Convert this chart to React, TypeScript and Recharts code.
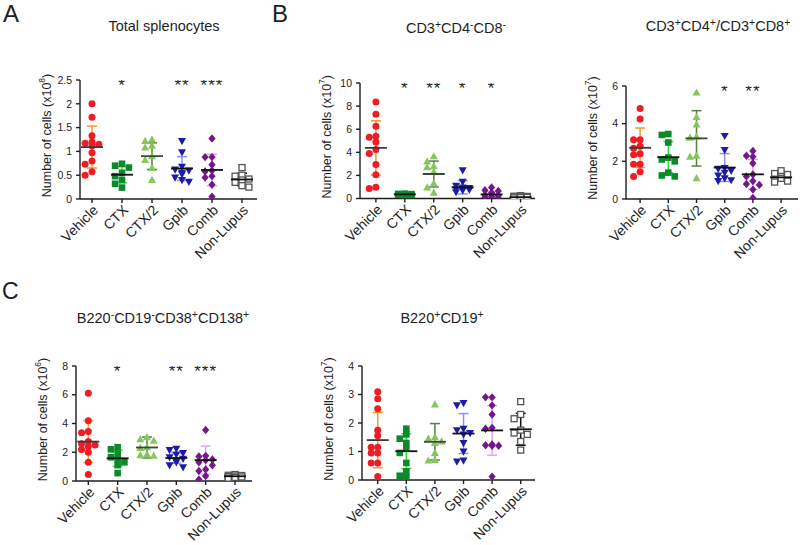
import React from "react";
import { ScatterChart, Scatter, XAxis, YAxis, ErrorBar } from "recharts";

const groups = ["Vehicle", "CTX", "CTX/2", "Gpib", "Comb", "Non-Lupus"];

// A: total splenocytes (x10^8)
const splenoPoints = [
  [2.0, 1.72, 1.33, 1.2, 1.17, 1.15, 1.12, 0.97, 0.8, 0.73, 0.57, 0.5],
  [0.74, 0.7, 0.66, 0.55, 0.48, 0.4, 0.32, 0.24],
  [1.25, 1.22, 1.12, 1.08, 0.9, 0.82, 0.65, 0.4],
  [1.22, 0.98, 0.68, 0.62, 0.6, 0.55, 0.52, 0.45, 0.4, 0.36],
  [1.27, 0.88, 0.88, 0.72, 0.6, 0.58, 0.48, 0.45, 0.3, 0.05],
  [0.66, 0.5, 0.48, 0.42, 0.4, 0.35, 0.28, 0.25],
];
const splenoMean = [1.09, 0.51, 0.9, 0.64, 0.61, 0.41];
const splenoSd = [0.44, 0.17, 0.28, 0.25, 0.33, 0.13];
const splenoStars = ["", "*", "", "**", "***", ""];

// B: CD3+CD4-CD8- (x10^7)
const dnPoints = [
  [8.35, 7.3, 6.25, 5.4, 5.3, 4.9, 4.25, 3.9, 2.95, 2.05, 0.98, 0.86],
  [0.42, 0.4, 0.38, 0.35, 0.33, 0.3, 0.28],
  [3.65, 3.2, 2.8, 2.7, 2.3, 1.3, 0.95, 0.5],
  [2.45, 1.45, 1.1, 0.95, 0.9, 0.85, 0.8, 0.75, 0.7, 0.55],
  [0.95, 0.72, 0.65, 0.5, 0.38, 0.3, 0.25, 0.18, 0.1, 0.05],
  [0.25, 0.2, 0.18, 0.15, 0.12, 0.1, 0.08, 0.05],
];
const dnMean = [4.38, 0.35, 2.12, 0.97, 0.35, 0.12];
const dnSd = [2.35, 0.05, 1.12, 0.58, 0.25, 0.07];
const dnStars = ["", "*", "**", "*", "*", ""];

// B: CD3+CD4+/CD3+CD8+ (x10^7)
const tPoints = [
  [4.8, 4.25, 3.15, 3.15, 2.8, 2.7, 2.4, 2.35, 1.85, 1.85, 1.45, 1.2],
  [3.45, 3.4, 3.0, 2.2, 2.1, 2.0, 1.4, 1.25, 1.2],
  [5.65, 4.35, 3.95, 3.3, 3.25, 2.3, 2.25, 1.1],
  [3.35, 2.6, 1.65, 1.6, 1.5, 1.4, 1.25, 1.1, 1.0, 0.95],
  [2.55, 2.3, 2.25, 1.9, 1.3, 1.2, 0.95, 0.8, 0.75, 0.5, 0.05],
  [1.5, 1.35, 1.3, 1.2, 1.1, 1.05, 0.95, 0.9],
];
const tMean = [2.72, 2.22, 3.22, 1.67, 1.31, 1.15];
const tSd = [1.05, 0.83, 1.47, 0.74, 0.8, 0.2];
const tStars = ["", "", "", "*", "**", ""];

// C: B220-CD19-CD38+CD138+ (x10^6)
const plasmaPoints = [
  [6.1, 4.2, 3.45, 3.35, 2.75, 2.6, 2.5, 2.4, 2.2, 2.0, 1.3, 0.45],
  [2.35, 2.2, 1.9, 1.65, 1.5, 1.3, 1.1, 0.55],
  [3.05, 2.9, 2.8, 2.35, 2.3, 1.85, 1.8, 1.75],
  [2.25, 2.15, 1.95, 1.85, 1.65, 1.55, 1.4, 1.3, 1.1, 0.95],
  [3.55, 1.75, 1.7, 1.5, 1.45, 1.3, 1.1, 0.8, 0.7, 0.35, 0.1],
  [0.45, 0.4, 0.38, 0.35, 0.3, 0.28, 0.25, 0.2],
];
const plasmaMean = [2.74, 1.58, 2.33, 1.6, 1.45, 0.33];
const plasmaSd = [1.46, 0.56, 0.73, 0.36, 0.98, 0.08];
const plasmaStars = ["", "*", "", "**", "***", ""];

// C: B220+CD19+ (x10^7)
const bPoints = [
  [3.1, 2.85, 2.5, 1.75, 1.55, 1.15, 1.15, 0.95, 0.95, 0.6, 0.6, 0.12],
  [1.8, 1.6, 1.45, 1.3, 1.1, 0.95, 0.6, 0.3, 0.15, 0.1],
  [2.65, 1.5, 1.45, 1.35, 1.3, 0.95, 0.7, 0.68],
  [2.7, 2.62, 1.8, 1.75, 1.65, 1.6, 1.3, 1.0, 0.68, 0.65],
  [2.9, 2.9, 2.62, 2.3, 1.83, 1.8, 1.25, 1.22, 1.2, 1.2, 0.12],
  [2.75, 2.3, 2.15, 1.75, 1.65, 1.6, 1.35, 1.05],
];
const bMean = [1.4, 1.01, 1.34, 1.63, 1.74, 1.78];
const bSd = [0.97, 0.61, 0.64, 0.7, 0.87, 0.56];
const bStars = ["", "", "", "", "", ""];

const dotColor = ["#ee1d23", "#0b8a2c", "#86c65a", "#1c1ca8", "#74178d", "#555555"];
const barColor = ["#f59a2c", "#33e133", "#55803f", "#8a93ee", "#e2a4ef", "#111111"];
const meanColor = ["#3a3a3a", "#111111", "#3a4a30", "#111111", "#111111", "#111111"];
const kinds = ["circle", "square", "up", "down", "diamond", "open"];

const FONT = "'Liberation Sans', Arial, Helvetica, sans-serif";
const INK = "#1e1e1e";

// little beeswarm so close values sit side by side
function spread(values: number[], yMax: number): number[] {
  const gap = yMax * 0.045;
  const slots = [0, -1, 1];
  const placed: { s: number; v: number }[] = [];
  let k = 0;
  return values.map((v) => {
    let slot = slots.find((s) => placed.every((p) => p.s !== s || Math.abs(p.v - v) >= gap));
    if (slot === undefined) slot = slots[k++ % 3];
    placed.push({ s: slot, v });
    return slot * 0.23;
  });
}

function Marker({ cx, cy, kind, color }: { cx: number; cy: number; kind: string; color: string }) {
  if (cx == null || cy == null) return null;
  switch (kind) {
    case "circle":
      return <circle cx={cx} cy={cy} r={3.5} fill={color} />;
    case "square":
      return <rect x={cx - 3.3} y={cy - 3.3} width={6.6} height={6.6} fill={color} />;
    case "up":
      return <polygon points={`${cx},${cy - 4.2} ${cx - 4},${cy + 3} ${cx + 4},${cy + 3}`} fill={color} />;
    case "down":
      return <polygon points={`${cx - 4},${cy - 3} ${cx + 4},${cy - 3} ${cx},${cy + 4.2}`} fill={color} />;
    case "diamond":
      return <polygon points={`${cx},${cy - 4.2} ${cx + 3.6},${cy} ${cx},${cy + 4.2} ${cx - 3.6},${cy}`} fill={color} />;
    default:
      return <rect x={cx - 3} y={cy - 3} width={6} height={6} fill="#fff" stroke={color} strokeWidth={1.3} />;
  }
}

const CatTick = (p: any) => {
  const ax = p.x + 7;
  const ay = p.y + 6;
  return (
    <text x={ax} y={ay} transform={`rotate(-45 ${ax} ${ay})`} textAnchor="end" fontSize={14} fill={INK} fontFamily={FONT}>
      {groups[p.payload.value]}
    </text>
  );
};

type PanelCfg = {
  points: number[][];
  mean: number[];
  sd: number[];
  stars: string[];
  yMax: number;
  yTicks: number[];
  exp: string;
  axisX: number;
  top: number;
  bottom: number;
  right: number;
  xMin: number;
  xMax: number;
};

const panels: PanelCfg[] = [
  { points: splenoPoints, mean: splenoMean, sd: splenoSd, stars: splenoStars, yMax: 2.5, yTicks: [0, 0.5, 1, 1.5, 2, 2.5], exp: "8", axisX: 80, top: 80, bottom: 199, right: 257, xMin: -0.4, xMax: 5.5 },
  { points: dnPoints, mean: dnMean, sd: dnSd, stars: dnStars, yMax: 10, yTicks: [0, 2, 4, 6, 8, 10], exp: "7", axisX: 360, top: 83, bottom: 198.5, right: 535, xMin: -0.55, xMax: 5.5 },
  { points: tPoints, mean: tMean, sd: tSd, stars: tStars, yMax: 6, yTicks: [0, 2, 4, 6], exp: "7", axisX: 626, top: 85.5, bottom: 198.5, right: 798, xMin: -0.5, xMax: 5.6 },
  { points: plasmaPoints, mean: plasmaMean, sd: plasmaSd, stars: plasmaStars, yMax: 8, yTicks: [0, 2, 4, 6, 8], exp: "6", axisX: 76, top: 366, bottom: 481, right: 252, xMin: -0.42, xMax: 5.58 },
  { points: bPoints, mean: bMean, sd: bSd, stars: bStars, yMax: 4, yTicks: [0, 1, 2, 3, 4], exp: "7", axisX: 362, top: 366, bottom: 480, right: 535, xMin: -0.55, xMax: 5.5 },
];

const titles: { x: number; y: number; parts: [string, string][] }[] = [
  { x: 164, y: 31, parts: [["Total splenocytes", ""]] },
  { x: 456, y: 33, parts: [["CD3", "+"], ["CD4", "-"], ["CD8", "-"]] },
  { x: 718, y: 31, parts: [["CD3", "+"], ["CD4", "+"], ["/CD3", "+"], ["CD8", "+"]] },
  { x: 163, y: 323, parts: [["B220", "-"], ["CD19", "-"], ["CD38", "+"], ["CD138", "+"]] },
  { x: 442, y: 323, parts: [["B220", "+"], ["CD19", "+"]] },
];

function Title({ x, y, parts }: { x: number; y: number; parts: [string, string][] }) {
  const kids: React.ReactNode[] = [];
  parts.forEach(([base, sup], i) => {
    kids.push(
      <tspan key={`b${i}`} dy={i > 0 && parts[i - 1][1] ? 5 : 0}>
        {base}
      </tspan>
    );
    if (sup)
      kids.push(
        <tspan key={`s${i}`} dy={-5} fontSize={10.5}>
          {sup}
        </tspan>
      );
  });
  return (
    <text x={x} y={y} textAnchor="middle" fontSize={14.5} fill={INK}>
      {kids}
    </text>
  );
}

function Panel(c: PanelCfg) {
  const chartLeft = c.axisX - 52;
  const chartTop = c.top - 14;
  const width = c.right - chartLeft + 4;
  const height = c.bottom - chartTop + 70;
  const axisStyle = { stroke: INK, strokeWidth: 1.4 };
  const starData = c.stars.map((s, i) => ({ x: i, y: c.yMax, s })).filter((d) => d.s);
  return (
    <div style={{ position: "absolute", left: chartLeft, top: chartTop }}>
      <ScatterChart width={width} height={height} margin={{ top: 14, right: 4, bottom: 10, left: 0 }}>
        <XAxis
          type="number"
          dataKey="x"
          domain={[c.xMin, c.xMax]}
          ticks={[0, 1, 2, 3, 4, 5]}
          interval={0}
          allowDataOverflow
          height={60}
          tickSize={4}
          axisLine={axisStyle}
          tickLine={axisStyle}
          tick={<CatTick />}
        />
        <YAxis
          type="number"
          dataKey="y"
          domain={[0, c.yMax]}
          ticks={c.yTicks}
          interval={0}
          allowDataOverflow
          width={52}
          tickSize={4}
          tickMargin={4}
          axisLine={axisStyle}
          tickLine={axisStyle}
          tick={{ fontSize: 10.5, fill: INK, fontFamily: FONT }}
        />
        {c.points.map((vals, g) => {
          const offs = spread(vals, c.yMax);
          const data = vals.map((v, j) => ({ x: g + offs[j], y: v }));
          return (
            <Scatter
              key={`p${g}`}
              data={data}
              isAnimationActive={false}
              shape={(p: any) => <Marker cx={p.cx} cy={p.cy} kind={kinds[g]} color={dotColor[g]} />}
            />
          );
        })}
        {c.mean.map((m, g) => (
          <Scatter
            key={`m${g}`}
            data={[{ x: g, y: m, sd: c.sd[g] }]}
            isAnimationActive={false}
            shape={(p: any) => (
              <line x1={p.cx - 11} x2={p.cx + 11} y1={p.cy} y2={p.cy} stroke={meanColor[g]} strokeWidth={1.8} />
            )}
          >
            <ErrorBar dataKey="sd" direction="y" width={5} stroke={barColor[g]} strokeWidth={1.5} />
          </Scatter>
        ))}
        <Scatter
          data={starData}
          isAnimationActive={false}
          shape={(p: any) => (
            <text x={p.cx} y={p.cy + 11} textAnchor="middle" fontSize={17} letterSpacing={1} fill={INK} fontFamily={FONT}>
              {p.payload?.s ?? p.s}
            </text>
          )}
        />
      </ScatterChart>
    </div>
  );
}

export default function App() {
  return (
    <div
      style={{
        position: "absolute",
        left: 0,
        top: 0,
        width: 800,
        height: 545,
        background: "#fff",
        overflow: "hidden",
        fontFamily: FONT,
      }}
    >
      <svg width={800} height={545} style={{ position: "absolute", left: 0, top: 0 }} fontFamily={FONT}>
        <text x={3} y={22} fontSize={24} fill={INK}>A</text>
        <text x={272} y={22} fontSize={24} fill={INK}>B</text>
        <text x={2} y={299} fontSize={23} fill={INK}>C</text>
        {titles.map((t, i) => (
          <Title key={i} {...t} />
        ))}
        {panels.map((p, i) => {
          const lx = p.axisX - 33;
          const ly = (p.top + p.bottom) / 2 - 4;
          return (
            <text
              key={i}
              x={lx}
              y={ly}
              transform={`rotate(-90 ${lx} ${ly})`}
              textAnchor="middle"
              dominantBaseline="central"
              fontSize={12.5}
              fill={INK}
            >
              Number of cells (x10
              <tspan dy={-5} fontSize={8.5}>
                {p.exp}
              </tspan>
              <tspan dy={5}>)</tspan>
            </text>
          );
        })}
      </svg>
      {panels.map((p, i) => (
        <Panel key={i} {...p} />
      ))}
    </div>
  );
}
